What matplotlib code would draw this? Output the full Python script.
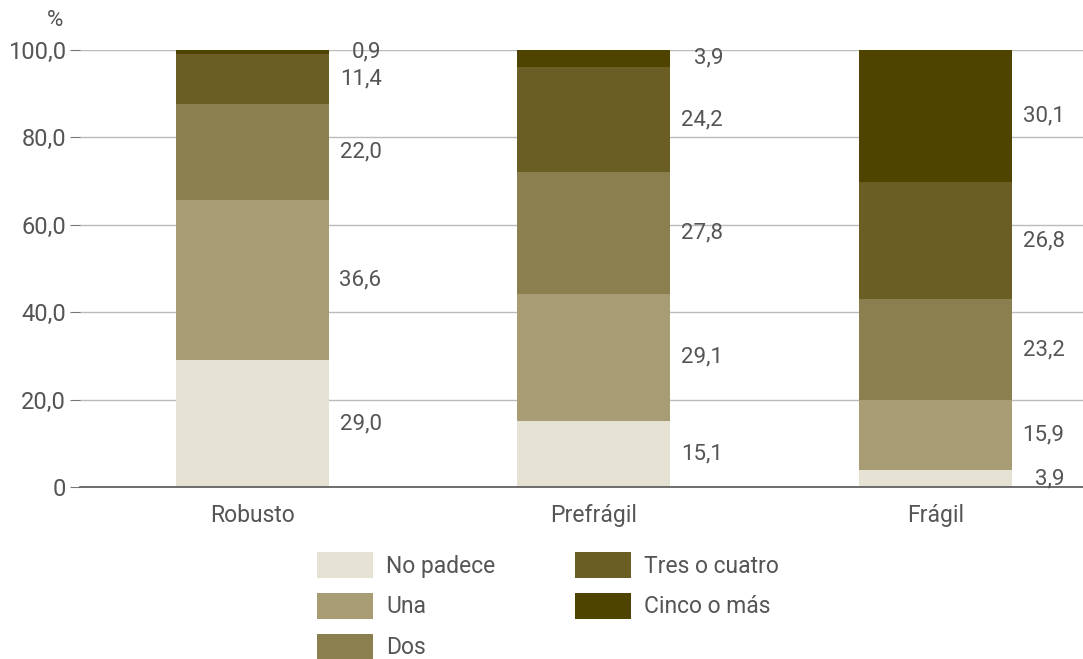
import matplotlib
matplotlib.use("Agg")
from matplotlib import pyplot as plt
import numpy as np

# data
categories = ["Robusto", "Prefrágil", "Frágil"]
series = ["No padece", "Una", "Dos", "Tres o cuatro", "Cinco o más"]
no_padece = [29.0, 15.1, 3.9]
una = [36.6, 29.1, 15.9]
dos = [22.0, 27.8, 23.2]
tres_cuatro = [11.4, 24.2, 26.8]
cinco_mas = [0.9, 3.9, 30.1]
yticks = [0, 20, 40, 60, 80, 100]
ytick_labels = ["0", "20,0", "40,0", "60,0", "80,0", "100,0"]

colors = ["#e5e1d3", "#a89c74", "#8b7f50", "#6b5e25", "#4f4300"]
txt = "#555555"

plt.rcParams["font.family"] = ["Roboto", "DejaVu Sans"]

fig = plt.figure(figsize=(10.83, 6.59), dpi=100)
ax = fig.add_axes([80 / 1083, 1 - 487 / 659, 1 - 80 / 1083, (487 - 50) / 659])

x = np.arange(len(categories))
width = 0.448
bottom = np.zeros(len(categories))
handles = []
for name, vals, col in zip(series, [no_padece, una, dos, tres_cuatro, cinco_mas], colors):
    vals = np.array(vals)
    b = ax.bar(x, vals, width, bottom=bottom, color=col, label=name, zorder=3, clip_on=False)
    handles.append(b)
    for i in range(len(x)):
        ax.text(x[i] + width / 2 + 0.155, bottom[i] + vals[i] / 2,
                f"{vals[i]:.1f}".replace(".", ","), ha="right", va="center",
                fontsize=16, color=txt)
    bottom += vals

ax.set_xlim(-0.504, 2.433)
ax.set_ylim(0, 100)
ax.set_yticks(yticks)
ax.set_yticklabels(ytick_labels)
ax.set_xticks(x)
ax.set_xticklabels(categories)
ax.tick_params(axis="y", length=7, color="#777777", labelcolor=txt, labelsize=17, pad=3)
ax.tick_params(axis="x", length=0, labelcolor=txt, labelsize=16.5, pad=12)
ax.yaxis.grid(True, color="#bbbbbb", linewidth=1, zorder=0)
ax.set_axisbelow(True)
for s in ["top", "right", "left"]:
    ax.spines[s].set_visible(False)
ax.spines["bottom"].set_color("#555555")
ax.spines["bottom"].set_linewidth(1.2)
ax.spines["bottom"].set_zorder(4)

fig.text(55 / 1083, 1 - 20 / 659, "%", ha="center", va="center", fontsize=16, color=txt)

leg = fig.legend(handles=handles, labels=series, ncol=2, loc="upper left",
                 bbox_to_anchor=(317 / 1083, 1 - 552 / 659), frameon=False,
                 fontsize=16.5, handlelength=2.44, handleheight=1.36,
                 handletextpad=0.57, labelspacing=0.655, columnspacing=3.5,
                 borderaxespad=0, borderpad=0)
for t in leg.get_texts():
    t.set_color(txt)

fig.savefig("out.png", dpi=100)
